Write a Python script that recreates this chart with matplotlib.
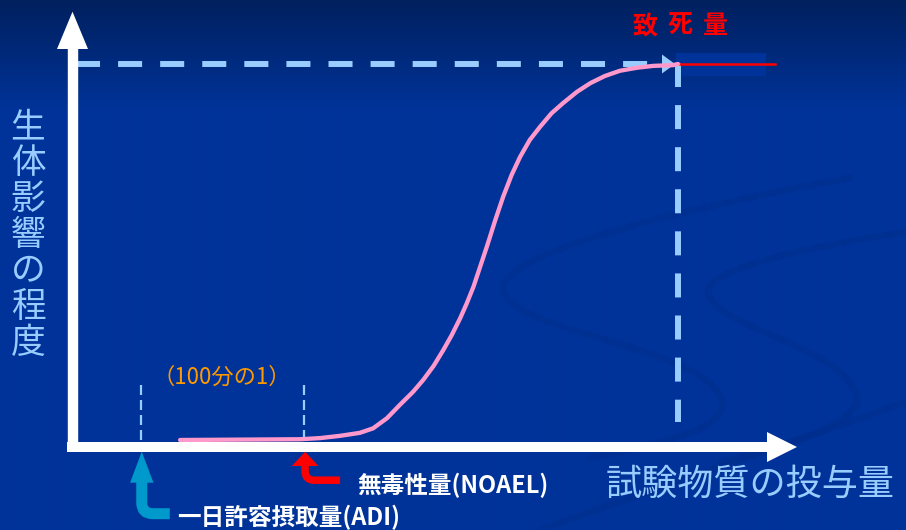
import numpy as np
import matplotlib
matplotlib.use('Agg')
import matplotlib.pyplot as plt
from matplotlib.path import Path
from matplotlib.patches import PathPatch, Polygon, Rectangle
from matplotlib.transforms import Affine2D
from matplotlib.colors import to_rgb

W, H = 906, 530
plt.rcParams['font.family'] = ['Noto Sans CJK JP', 'DejaVu Sans']
plt.rcParams['lines.scale_dashes'] = False

# dose-response curve (dose: lethal dose = 100, effect in %)
dose = [17.7, 27.6, 37.5, 40.8, 44.1, 47.4, 49.6, 51.9, 54.0, 56.2, 57.9, 59.6,
        61.2, 62.6, 64.0, 65.1, 66.2, 67.3, 68.4, 69.8, 71.1, 72.5, 73.9, 75.5,
        77.2, 79.1, 81.0, 83.3, 85.5, 87.9, 90.4, 93.2, 95.9, 99.2, 100.0]
effect = [0.0, 0.1, 0.2, 0.5, 1.1, 1.9, 3.1, 5.8, 9.3, 12.8, 16.0, 19.7,
          23.9, 27.9, 32.4, 36.4, 40.8, 46.1, 51.4, 58.5, 64.7, 70.5, 75.3, 79.8,
          83.3, 86.9, 89.6, 92.6, 94.9, 96.8, 98.2, 99.0, 99.5, 99.7, 100.0]

ADI_DOSE = 11.2
NOAEL_DOSE = 38.2
LETHAL_DOSE = 100.0
MAX_EFFECT = 100.0

y_label = '生体影響の程度'
x_label = '試験物質の投与量'
lethal_label = '致死量'
ratio_label = '（100分の1）'
noael_label = '無毒性量(NOAEL)'
adi_label = '一日許容摂取量(ADI)'

# layout: where dose 0 / effect 0 sit on the canvas and pixels per unit
ORIGIN_PX = (73, 440)
PX_PER_DOSE = 6.05
PX_PER_EFFECT = 3.76


def dx(px):
    return px / PX_PER_DOSE


def dy(px):
    return px / PX_PER_EFFECT


fig = plt.figure(figsize=(W / 100, H / 100), dpi=100)
ax = fig.add_axes([0, 0, 1, 1])
xlim = (-ORIGIN_PX[0] / PX_PER_DOSE, (W - ORIGIN_PX[0]) / PX_PER_DOSE)
ylim = ((ORIGIN_PX[1] - H) / PX_PER_EFFECT, ORIGIN_PX[1] / PX_PER_EFFECT)
ax.axis('off')

# pixel coords measured from the top-left corner
pix = Affine2D().scale(1, -1).translate(0, H)

# background: dark navy at the top fading into the slide blue
top = np.array(to_rgb('#00205e'))
mid = np.array(to_rgb('#003399'))
t = np.clip(np.arange(H) / 110.0, 0, 1)[:, None]
grad = top * (1 - t) + mid * t
ax.imshow(grad[:, None, :], extent=[xlim[0], xlim[1], ylim[0], ylim[1]],
          aspect='auto', zorder=0, interpolation='bilinear')
ax.set_xlim(*xlim)
ax.set_ylim(*ylim)

# faint swooshes of the slide template
M, C4 = Path.MOVETO, Path.CURVE4
swooshes = [
    [(850, 178), (700, 205), (480, 255), (505, 295), (530, 335), (690, 345), (720, 395),
     (735, 425), (680, 440), (590, 458)],
    [(906, 232), (820, 245), (690, 270), (710, 298), (730, 330), (830, 345), (855, 390),
     (870, 420), (800, 442), (720, 462)],
    [(906, 402), (800, 440), (650, 490), (540, 530)],
]
for sw in swooshes:
    codes = [M] + [C4] * (len(sw) - 1)
    ax.add_patch(PathPatch(Path(sw, codes), fill=False, lw=5, edgecolor='#002e8e',
                           alpha=0.55, capstyle='round', transform=pix, zorder=1))

# box behind the lethal-dose marker
ax.add_patch(Rectangle((LETHAL_DOSE - dx(2), MAX_EFFECT - dy(12)), dx(90), dy(23),
                       color='#003399', zorder=2, lw=0))

# dashed guides
ax.plot([dx(3), LETHAL_DOSE - dx(15)], [MAX_EFFECT, MAX_EFFECT], color='#99ccff',
        lw=4.3, ls=(0, (17.3, 13)), solid_capstyle='butt', dash_capstyle='butt', zorder=3)
ax.add_patch(Polygon([(LETHAL_DOSE - dx(16), MAX_EFFECT + dy(9.5)),
                      (LETHAL_DOSE - dx(16), MAX_EFFECT - dy(9.5)),
                      (LETHAL_DOSE - dx(3), MAX_EFFECT)], closed=True,
                     color='#99ccff', lw=0, zorder=3))
ax.plot([LETHAL_DOSE, LETHAL_DOSE], [MAX_EFFECT + dy(1), dy(18)], color='#99ccff',
        lw=4.3, ls=(0, (17.3, 13)), dash_capstyle='butt', zorder=3)
for d in (ADI_DOSE, NOAEL_DOSE):
    ax.plot([d, d], [dy(55), 0], color='#99ccff', lw=1.6, ls=(0, (7.2, 3.6)),
            dash_capstyle='butt', zorder=3)

# lethal dose red line
ax.plot([LETHAL_DOSE, LETHAL_DOSE + dx(97)], [MAX_EFFECT, MAX_EFFECT], color='#ff0000',
        lw=1.8, zorder=4)

# dose-response curve
ax.plot(dose, effect, color='#ff99cc', lw=3.1, solid_capstyle='round',
        solid_joinstyle='round', zorder=4)

# white axis arrows
ax.plot([67, 768], [446.7, 446.7], transform=pix, color='white', lw=7.2,
        solid_capstyle='butt', zorder=5)
ax.add_patch(Polygon([(767, 432), (767, 462), (797, 447)], closed=True, color='white',
                     lw=0, transform=pix, zorder=5))
ax.plot([72.5, 72.5], [451.7, 48], transform=pix, color='white', lw=7.5,
        solid_capstyle='butt', zorder=5)
ax.add_patch(Polygon([(57, 49), (88, 49), (72.5, 11.7)], closed=True, color='white',
                     lw=0, transform=pix, zorder=5))


def bent_arrow(x_tip, y_tip, head_len, head_w, drop, run, shaft_w, rad, color):
    yb = y_tip + head_len
    yc = y_tip + drop
    verts = [(x_tip, yb), (x_tip, yc - rad), (x_tip, yc), (x_tip + rad, yc), (x_tip + run, yc)]
    codes = [Path.MOVETO, Path.LINETO, Path.CURVE3, Path.CURVE3, Path.LINETO]
    ax.add_patch(PathPatch(Path(verts, codes), fill=False, lw=shaft_w * 0.72,
                           edgecolor=color, capstyle='butt', joinstyle='round',
                           transform=pix, zorder=6))
    ax.add_patch(Polygon([(x_tip - head_w / 2, yb + 1), (x_tip + head_w / 2, yb + 1),
                          (x_tip, y_tip)], closed=True, color=color, lw=0,
                         transform=pix, zorder=6))


fig.canvas.draw()
adi_px = ax.transData.transform((ADI_DOSE, 0))[0]
noael_px = ax.transData.transform((NOAEL_DOSE, 0))[0]
bent_arrow(adi_px + 1, 451.7, 30, 23.4, 62, 28, 11, 11, '#0099cc')
bent_arrow(noael_px + 1, 451.7, 13.3, 26.7, 28.5, 35, 7.5, 9, '#ff0000')

# texts
for i, ch in enumerate(y_label):
    ax.text(28, 128 + 36 * i, ch, transform=pix, color='#99ccff', fontsize=25,
            ha='center', va='center', zorder=7)
ax.text(606, 485, x_label, transform=pix, color='#99ccff', fontsize=26,
        ha='left', va='center', zorder=7)
for i, ch in enumerate(lethal_label):
    ax.text(645 + 35 * i, 26, ch, transform=pix, color='#ff0000', fontsize=18,
            fontweight='bold', ha='center', va='center', zorder=7)
ax.text(152, 377, ratio_label, transform=pix, color='#ff9900', fontsize=16,
        ha='left', va='center', zorder=7)
ax.text(357, 485, noael_label, transform=pix, color='white', fontsize=17,
        fontweight='bold', ha='left', va='center', zorder=7)
ax.text(177, 517, adi_label, transform=pix, color='white', fontsize=17,
        fontweight='bold', ha='left', va='center', zorder=7)

fig.savefig('out.png', dpi=100)
